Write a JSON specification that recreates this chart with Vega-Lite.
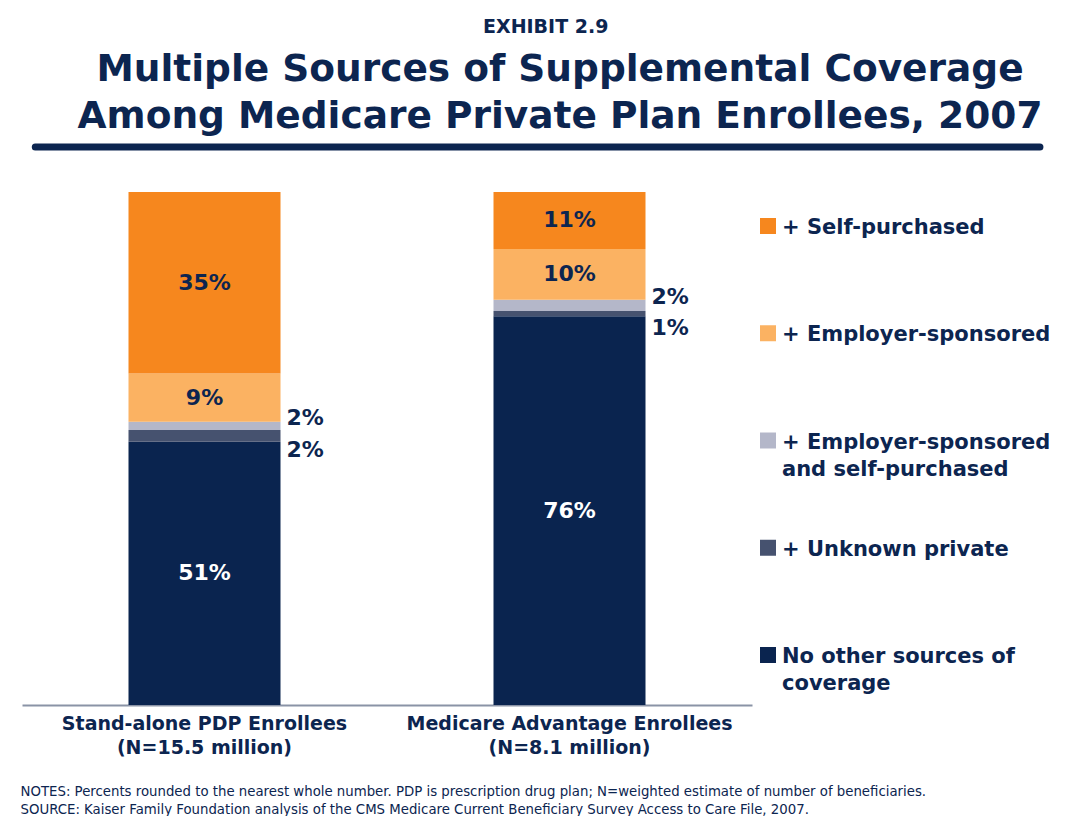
{
  "$schema": "https://vega.github.io/schema/vega-lite/v6.json",
  "padding": {"left": 20, "top": 18, "right": 0, "bottom": 0},
  "background": "white",
  "config": {"font": "DejaVu Sans", "view": {"stroke": null}},
  "title": {"text": "EXHIBIT 2.9", "fontSize": 19, "fontWeight": "bold", "color": "#0c2550", "anchor": "start", "frame": "bounds", "dx": 463, "offset": 14},
  "datasets": {
    "bars": [
      {"group": "Stand-alone PDP Enrollees|(N=15.5 million)", "source": "No other sources of coverage", "rank": 1, "pct": 51.3, "label": "51%"},
      {"group": "Stand-alone PDP Enrollees|(N=15.5 million)", "source": "+ Unknown private", "rank": 2, "pct": 2.3, "label": "2%"},
      {"group": "Stand-alone PDP Enrollees|(N=15.5 million)", "source": "+ Employer-sponsored and self-purchased", "rank": 3, "pct": 1.6, "label": "2%"},
      {"group": "Stand-alone PDP Enrollees|(N=15.5 million)", "source": "+ Employer-sponsored", "rank": 4, "pct": 9.4, "label": "9%"},
      {"group": "Stand-alone PDP Enrollees|(N=15.5 million)", "source": "+ Self-purchased", "rank": 5, "pct": 35.4, "label": "35%"},
      {"group": "Medicare Advantage Enrollees|(N=8.1 million)", "source": "No other sources of coverage", "rank": 1, "pct": 75.8, "label": "76%"},
      {"group": "Medicare Advantage Enrollees|(N=8.1 million)", "source": "+ Unknown private", "rank": 2, "pct": 1.0, "label": "1%"},
      {"group": "Medicare Advantage Enrollees|(N=8.1 million)", "source": "+ Employer-sponsored and self-purchased", "rank": 3, "pct": 2.2, "label": "2%"},
      {"group": "Medicare Advantage Enrollees|(N=8.1 million)", "source": "+ Employer-sponsored", "rank": 4, "pct": 9.9, "label": "10%"},
      {"group": "Medicare Advantage Enrollees|(N=8.1 million)", "source": "+ Self-purchased", "rank": 5, "pct": 11.1, "label": "11%"}
    ],
    "legend": [
      {"source": "+ Self-purchased", "text": "+ Self-purchased"},
      {"source": "+ Employer-sponsored", "text": "+ Employer-sponsored"},
      {"source": "+ Employer-sponsored and self-purchased", "text": "+ Employer-sponsored|and self-purchased"},
      {"source": "+ Unknown private", "text": "+ Unknown private"},
      {"source": "No other sources of coverage", "text": "No other sources of|coverage"}
    ],
    "underline": [{"from": 1.3, "to": 99.7}]
  },
  "vconcat": [
    {
      "width": 1021,
      "height": 1,
      "title": {
        "text": ["Multiple Sources of Supplemental Coverage", "Among Medicare Private Plan Enrollees, 2007"],
        "fontSize": 37.5, "fontWeight": "bold", "lineHeight": 47, "color": "#0c2550",
        "anchor": "middle", "frame": "group", "offset": 8, "dx": 27.5
      },
      "data": {"name": "underline"},
      "mark": {"type": "rule", "color": "#0c2550", "strokeWidth": 7, "strokeCap": "round"},
      "encoding": {
        "x": {"field": "from", "type": "quantitative", "scale": {"domain": [0, 100]}, "axis": null},
        "x2": {"field": "to"},
        "y": {"datum": 0, "type": "quantitative", "scale": {"domain": [0, 1]}, "axis": null}
      }
    },
    {
      "hconcat": [
        {
          "width": 730,
          "height": 513,
          "data": {"name": "bars"},
          "encoding": {
            "x": {
              "field": "group", "type": "nominal", "sort": null,
              "scale": {"paddingInner": 0, "paddingOuter": 0},
              "axis": {
                "title": ["NOTES: Percents rounded to the nearest whole number. PDP is prescription drug plan; N=weighted estimate of number of beneficiaries.", "SOURCE: Kaiser Family Foundation analysis of the CMS Medicare Current Beneficiary Survey Access to Care File, 2007."],
                "titleFontSize": 13.3, "titleFontWeight": "normal", "titleColor": "#0c2550",
                "titleAlign": "left", "titleAnchor": "start", "titleX": -2, "titlePadding": 27, "titleLineHeight": 18, "titleLimit": 1100,
                "labelExpr": "split(datum.label, '|')", "labelAngle": 0, "labelFontSize": 19, "labelFontWeight": "bold",
                "labelColor": "#0c2550", "labelLineHeight": 24, "labelPadding": 9, "labelLimit": 400,
                "ticks": false, "domainColor": "#8a93a6", "domainWidth": 2
              }
            },
            "y": {"field": "pct", "type": "quantitative", "stack": "zero", "scale": {"domain": [0, 100]}, "axis": null},
            "order": {"field": "rank", "type": "quantitative"}
          },
          "layer": [
            {
              "mark": {"type": "bar", "width": 152},
              "encoding": {
                "color": {
                  "field": "source", "type": "nominal",
                  "scale": {"domain": ["+ Self-purchased", "+ Employer-sponsored", "+ Employer-sponsored and self-purchased", "+ Unknown private", "No other sources of coverage"],
                            "range": ["#f6871e", "#fbb262", "#b4b7c9", "#46526f", "#0a244f"]},
                  "legend": null
                }
              }
            },
            {
              "mark": {"type": "text", "fontSize": 22, "fontWeight": "bold", "baseline": "middle", "align": "center"},
              "encoding": {
                "y": {"field": "pct", "type": "quantitative", "stack": "zero", "bandPosition": 0.5},
                "detail": {"field": "source"},
                "text": {"field": "label", "condition": {"test": "datum.pct < 5", "value": ""}},
                "color": {"condition": {"test": "datum.source === 'No other sources of coverage'", "value": "white"}, "value": "#0c2550"}
              }
            },
            {
              "mark": {"type": "text", "fontSize": 22, "fontWeight": "bold", "baseline": "middle", "align": "left", "dx": 82, "dy": -8, "color": "#0c2550"},
              "encoding": {
                "y": {"field": "pct", "type": "quantitative", "stack": "zero", "bandPosition": 0.5},
                "detail": {"field": "source"},
                "text": {"field": "label", "condition": {"test": "datum.source !== '+ Employer-sponsored and self-purchased'", "value": ""}}
              }
            },
            {
              "mark": {"type": "text", "fontSize": 22, "fontWeight": "bold", "baseline": "middle", "align": "left", "dx": 82, "dy": 14, "color": "#0c2550"},
              "encoding": {
                "y": {"field": "pct", "type": "quantitative", "stack": "zero", "bandPosition": 0.5},
                "detail": {"field": "source"},
                "text": {"field": "label", "condition": {"test": "datum.source !== '+ Unknown private'", "value": ""}}
              }
            }
          ]
        },
        {
          "width": 284,
          "height": 497,
          "data": {"name": "legend"},
          "encoding": {
            "y": {"field": "source", "type": "nominal", "sort": null, "scale": {"type": "point", "padding": 0.317}, "axis": null},
            "x": {"datum": 0, "type": "quantitative", "scale": {"domain": [0, 1]}, "axis": null}
          },
          "layer": [
            {
              "mark": {"type": "square", "size": 256, "opacity": 1, "strokeWidth": 0},
              "encoding": {
                "color": {
                  "field": "source", "type": "nominal",
                  "scale": {"domain": ["+ Self-purchased", "+ Employer-sponsored", "+ Employer-sponsored and self-purchased", "+ Unknown private", "No other sources of coverage"],
                            "range": ["#f6871e", "#fbb262", "#b4b7c9", "#46526f", "#0a244f"]},
                  "legend": null
                }
              }
            },
            {
              "mark": {"type": "text", "align": "left", "baseline": "top", "dx": 14, "dy": -9, "lineBreak": "|", "lineHeight": 27, "fontSize": 21, "fontWeight": "bold", "color": "#0c2550"},
              "encoding": {"text": {"field": "text"}}
            }
          ]
        }
      ],
      "spacing": 16,
      "bounds": "flush"
    }
  ],
  "spacing": 45,
  "bounds": "flush"
}
